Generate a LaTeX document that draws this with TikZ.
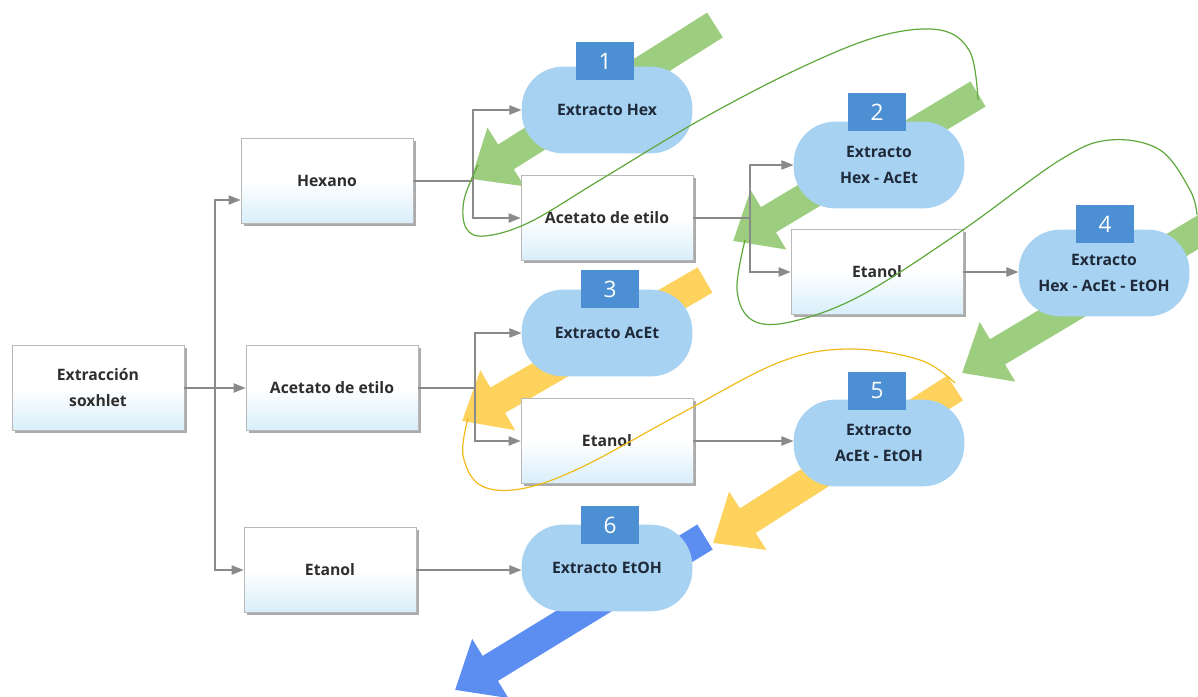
\documentclass[tikz,border=0pt]{standalone}
\usepackage{fontspec}
\setmainfont{Open Sans}
\usetikzlibrary{arrows.meta,shadows}
\definecolor{boxline}{HTML}{B8B8B8}
\definecolor{boxblue}{HTML}{D8EEFA}
\definecolor{cloudblue}{HTML}{A8D2F2}
\definecolor{badgeblue}{HTML}{4D8FD3}
\definecolor{conncol}{HTML}{8A8A8A}
\definecolor{fgreen}{HTML}{9DCD7F}
\definecolor{fyellow}{HTML}{FDD35E}
\definecolor{fblue}{HTML}{5C8EF2}
\definecolor{lgreen}{HTML}{5FA83C}
\definecolor{lyellow}{HTML}{F0BC1A}
\definecolor{boxtext}{HTML}{2E2E2E}
\definecolor{cloudtext}{HTML}{1E2A3A}
\tikzset{
  stepbox/.style={draw=boxline, line width=0.6pt, top color=white, bottom color=boxblue, middle color=white,
    drop shadow={shadow xshift=2pt, shadow yshift=-2pt, fill=black!55, opacity=0.6},
    minimum width=129pt, minimum height=64pt, inner sep=2pt,
    font=\bfseries\fontsize{11.8}{19.5}\selectfont, text=boxtext, align=center},
  cloudnode/.style={fill=cloudblue, rounded corners=31pt, minimum width=128pt, minimum height=65pt,
    inner sep=2pt, font=\bfseries\fontsize{11.8}{19.5}\selectfont, text=cloudtext, align=center},
  badgenode/.style={fill=badgeblue, minimum width=43.5pt, minimum height=28.5pt, inner sep=0pt,
    text=white, font=\fontsize{17}{17}\selectfont},
  conline/.style={draw=conncol, line width=0.8pt},
  conarrow/.style={conline, -{Triangle[length=9pt,width=7pt]}},
  fat/.style={line width=22pt, line cap=butt, -{Triangle[length=31pt,width=50pt]}},
  loopline/.style={line width=0.9pt},
}
\begin{document}
\begin{tikzpicture}[x=0.75pt,y=-0.75pt]
\useasboundingbox (0,0) rectangle (1198,696);

% big fat arrows (behind)
\coordinate (g1a) at (715,25);   \coordinate (g1b) at (471,179);
\coordinate (g2a) at (978,94);   \coordinate (g2b) at (733,241);
\coordinate (g3a) at (1205,228); \coordinate (g3b) at (962,373);
\coordinate (y1a) at (705,280);  \coordinate (y1b) at (462,421);
\coordinate (y2a) at (955,388);  \coordinate (y2b) at (713,543);
\coordinate (b1a) at (705,537);  \coordinate (b1b) at (455,690);
\draw[fat, fgreen] (g1a) -- (g1b);
\draw[fat, fgreen] (g2a) -- (g2b);
\draw[fat, fgreen] (g3a) -- (g3b);
\draw[fat, fyellow] (y1a) -- (y1b);
\draw[fat, fyellow] (y2a) -- (y2b);
\draw[fat, fblue] (b1a) -- (b1b);

% boxes
\node[stepbox] (sox) at (98,388) {Extracción\\soxhlet};
\node[stepbox] (hex) at (327,181) {Hexano};
\node[stepbox] (acet1) at (332,388) {Acetato de etilo};
\node[stepbox] (et1) at (330,570) {Etanol};
\node[stepbox] (acet2) at (607,218) {Acetato de etilo};
\node[stepbox] (et2) at (607,441) {Etanol};
\node[stepbox] (et3) at (877,272) {Etanol};

% clouds
\node[cloudnode] (c1) at (607,110) {Extracto Hex};
\node[cloudnode] (c2) at (879,165) {Extracto\\Hex - AcEt};
\node[cloudnode] (c4) at (1104,273) {Extracto\\Hex - AcEt - EtOH};
\node[cloudnode] (c3) at (607,333) {Extracto AcEt};
\node[cloudnode] (c5) at (879,443) {Extracto\\AcEt - EtOH};
\node[cloudnode] (c6) at (607,568) {Extracto EtOH};

% badges
\node[badgenode] (n1) at (605,61) {1};
\node[badgenode] (n2) at (877,112) {2};
\node[badgenode] (n4) at (1105,224) {4};
\node[badgenode] (n3) at (610,289) {3};
\node[badgenode] (n5) at (877,391) {5};
\node[badgenode] (n6) at (610,525) {6};

% connectors
\coordinate (t0) at (215,388);
\draw[conarrow] (sox) -- (acet1);
\draw[conarrow] (t0) |- (hex.west |- 0,200);
\draw[conarrow] (t0) |- (et1.west);

\coordinate (s1) at (473,181);
\draw[conline] (hex.east) -- (s1);
\draw[conarrow] (s1) |- (c1.west);
\draw[conarrow] (s1) |- (acet2.west);

\coordinate (s2) at (750,218);
\draw[conline] (acet2.east) -- (s2);
\draw[conarrow] (s2) |- (c2.west);
\draw[conarrow] (s2) |- (et3.west);
\draw[conarrow] (et3.east) -- (c4.west |- et3.east);

\coordinate (s3) at (475,388);
\draw[conline] (acet1.east) -- (s3);
\draw[conarrow] (s3) |- (c3.west);
\draw[conarrow] (s3) |- (et2.west);
\draw[conarrow] (et2.east) -- (c5.west |- et2.east);
\draw[conarrow] (et1.east) -- (c6.west |- et1.east);

% thin loops (on top)
\draw[lgreen, loopline] plot[smooth, tension=0.6] coordinates {(478,165) (464,200) (466,228) (485,236) (530,222) (600,180) (700,120) (800,68) (880,36) (940,30) (970,52) (978,100)};
\draw[lgreen, loopline] plot[smooth, tension=0.6] coordinates {(745,240) (737,290) (752,320) (790,322) (860,296) (960,232) (1060,160) (1110,140) (1160,150) (1190,190) (1197,215)};
\draw[lyellow, loopline] plot[smooth, tension=0.6] coordinates {(468,418) (463,455) (480,485) (520,489) (580,468) (680,414) (780,362) (850,349) (920,360) (955,383)};
\end{tikzpicture}
\end{document}
